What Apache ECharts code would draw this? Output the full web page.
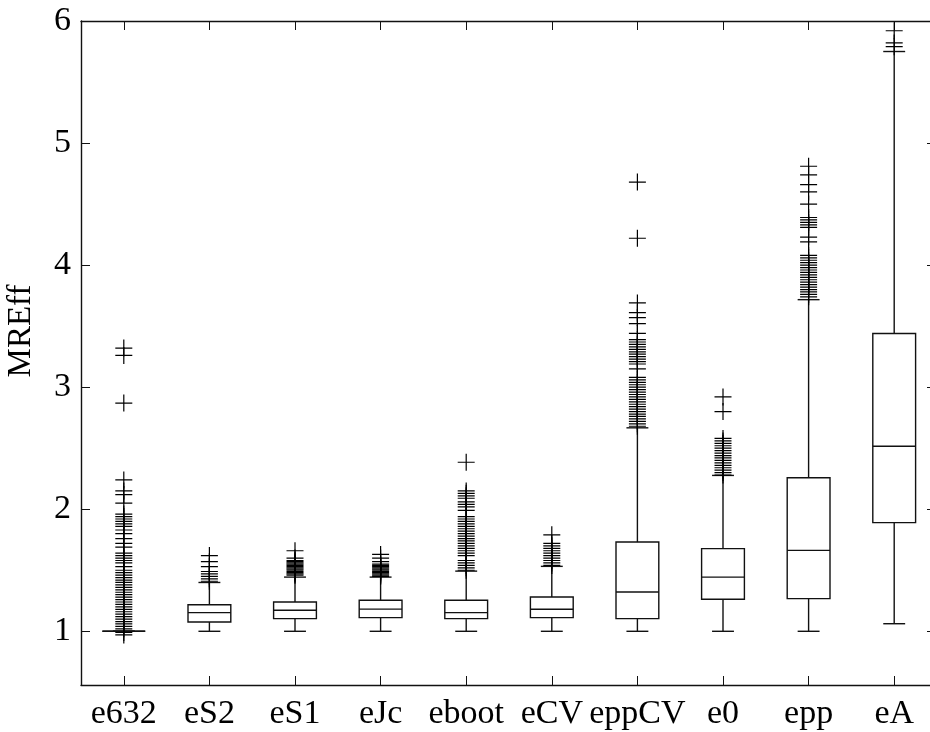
<!DOCTYPE html>
<html>
<head>
<meta charset="utf-8">
<script src="https://cdn.jsdelivr.net/npm/echarts@6/dist/echarts.min.js"></script>
<style>
  html, body { margin: 0; padding: 0; background: #fff; }
  #chart { width: 930px; height: 732px; }
</style>
</head>
<body>
<div id="chart"></div>
<script>
// categories on the x axis
const categories = ['e632', 'eS2', 'eS1', 'eJc', 'eboot', 'eCV', 'eppCV', 'e0', 'epp', 'eA'];

// box summaries
const lowWhisker  = [1.0, 1.0,   1.0,   1.0,   1.0,   1.0,   1.0,   1.0,   1.0,   1.062];
const lowQuartile = [1.0, 1.076, 1.104, 1.112, 1.104, 1.112, 1.104, 1.262, 1.268, 1.89];
const medians     = [1.0, 1.153, 1.172, 1.182, 1.153, 1.18,  1.322, 1.444, 1.663, 2.516];
const upQuartile  = [1.0, 1.218, 1.24,  1.254, 1.254, 1.281, 1.731, 1.677, 2.258, 3.44];
const upWhisker   = [1.0, 1.40,  1.444, 1.444, 1.493, 1.532, 2.667, 2.277, 3.717, 5.75];

// outliers per category ('+' markers)
const outE632 = [3.32, 3.26, 2.87, 2.24, 2.15, 2.12, 2.05, 1.96, 1.94, 1.92, 1.90, 1.88, 1.86, 1.83, 1.80,
  1.76, 1.72, 1.69, 1.64, 1.62, 1.60, 1.58, 1.56, 1.53, 1.50, 1.48, 1.46, 1.44, 1.42, 1.40, 1.38, 1.36,
  1.34, 1.32, 1.30, 1.28, 1.26, 1.24, 1.22, 1.20, 1.18, 1.16, 1.14, 1.12, 1.10, 1.08, 1.06, 1.04, 1.02,
  0.99, 0.97];
const outES2 = [1.62, 1.57, 1.53, 1.49, 1.47, 1.45, 1.43, 1.41];
const outES1 = [1.66, 1.60, 1.58, 1.57, 1.56, 1.55, 1.54, 1.53, 1.52, 1.51, 1.50, 1.49, 1.48, 1.47, 1.46];
const outEJc = [1.63, 1.60, 1.57, 1.55, 1.54, 1.53, 1.52, 1.51, 1.50, 1.49, 1.48, 1.47, 1.46, 1.45];
const outEboot = [2.385, 2.15, 2.13, 2.11, 2.09, 2.06, 2.04, 2.02, 1.99, 1.94, 1.92, 1.90, 1.88, 1.86, 1.84,
  1.82, 1.80, 1.78, 1.76, 1.74, 1.72, 1.70, 1.68, 1.66, 1.64, 1.62, 1.58, 1.56, 1.54, 1.52, 1.50];
const outECV = [1.79, 1.72, 1.70, 1.68, 1.66, 1.64, 1.62, 1.60, 1.58, 1.56, 1.54];
const outEppCV = [4.68, 4.22, 3.69, 3.61, 3.57, 3.52, 3.44, 3.39, 3.37, 3.35, 3.33, 3.31, 3.29, 3.27, 3.25,
  3.23, 3.21, 3.19, 3.15, 3.08, 3.06, 3.04, 3.02, 3.00, 2.98, 2.96, 2.94, 2.92, 2.90, 2.88, 2.86, 2.84,
  2.82, 2.80, 2.78, 2.76, 2.74, 2.72, 2.70, 2.68];
const outE0 = [2.92, 2.80, 2.58, 2.56, 2.54, 2.52, 2.50, 2.48, 2.46, 2.44, 2.42, 2.40, 2.38, 2.36, 2.34,
  2.32, 2.30, 2.28];
const outEpp = [4.81, 4.74, 4.66, 4.60, 4.50, 4.39, 4.37, 4.35, 4.33, 4.31, 4.23, 4.19, 4.08, 4.06, 4.04,
  4.02, 4.00, 3.98, 3.96, 3.94, 3.92, 3.90, 3.88, 3.86, 3.84, 3.82, 3.80, 3.78, 3.76, 3.74];
const outEA = [5.92, 5.82, 5.79];

// y tick labels
const yTicks = [1, 2, 3, 4, 5, 6];

const outlierLists = [outE632, outES2, outES1, outEJc, outEboot, outECV, outEppCV, outE0, outEpp, outEA];

// build data for the series
const boxData = categories.map((c, i) =>
  [i, lowWhisker[i], lowQuartile[i], medians[i], upQuartile[i], upWhisker[i]]);
const outlierData = [];
outlierLists.forEach((list, i) => {
  list.forEach(v => outlierData.push([i, v]));
});

const serif = 'Liberation Serif, Times New Roman, serif';
const lineColor = '#111';

// draw one box: box, median, whiskers and short caps
function renderBox(params, api) {
  const i = api.value(0);
  const lo = api.coord([i, api.value(1)]);
  const b1 = api.coord([i, api.value(2)]);
  const md = api.coord([i, api.value(3)]);
  const b3 = api.coord([i, api.value(4)]);
  const hi = api.coord([i, api.value(5)]);
  const band = api.size([1, 0])[0];
  const hw = band * 0.25;   // half box width
  const cw = band * 0.128;  // half cap width
  const x = lo[0];
  const st = { stroke: lineColor, lineWidth: 1.4, fill: 'none' };
  return {
    type: 'group',
    children: [
      { type: 'line', shape: { x1: x, y1: b3[1], x2: x, y2: hi[1] }, style: st },
      { type: 'line', shape: { x1: x, y1: b1[1], x2: x, y2: lo[1] }, style: st },
      { type: 'line', shape: { x1: x - cw, y1: hi[1], x2: x + cw, y2: hi[1] }, style: st },
      { type: 'line', shape: { x1: x - cw, y1: lo[1], x2: x + cw, y2: lo[1] }, style: st },
      { type: 'rect', shape: { x: x - hw, y: b3[1], width: hw * 2, height: b1[1] - b3[1] }, style: st },
      { type: 'line', shape: { x1: x - hw, y1: md[1], x2: x + hw, y2: md[1] }, style: st }
    ]
  };
}

const chart = echarts.init(document.getElementById('chart'));
chart.setOption({
  animation: false,
  backgroundColor: '#fff',
  grid: { left: 81, right: -7, top: 21, bottom: 47, containLabel: false, outerBoundsMode: 'none' },
  xAxis: [
    {
      type: 'category',
      data: categories,
      position: 'bottom',
      boundaryGap: true,
      axisLine: { show: true, lineStyle: { color: lineColor, width: 1.4 } },
      axisTick: { show: true, inside: true, alignWithLabel: true, interval: 0, length: 9, lineStyle: { color: lineColor } },
      axisLabel: { color: '#000', fontSize: 34, fontFamily: serif, margin: 12, interval: 0, hideOverlap: false },
      splitLine: { show: false }
    },
    {
      type: 'category',
      data: categories,
      position: 'top',
      boundaryGap: true,
      axisLine: { show: true, lineStyle: { color: lineColor, width: 1.4 } },
      axisTick: { show: true, inside: true, alignWithLabel: true, interval: 0, length: 9, lineStyle: { color: lineColor } },
      axisLabel: { show: false },
      splitLine: { show: false }
    }
  ],
  yAxis: [
    {
      type: 'value',
      min: 0.56,
      max: 6,
      position: 'left',
      name: 'MREff',
      nameLocation: 'middle',
      nameRotate: 90,
      nameGap: 43,
      nameTextStyle: { color: '#000', fontSize: 33, fontFamily: serif, padding: [0, 0, 0, 44] },
      axisLine: { show: true, lineStyle: { color: lineColor, width: 1.4 } },
      axisTick: { show: true, inside: true, length: 9, customValues: yTicks, lineStyle: { color: lineColor } },
      axisLabel: { color: '#000', fontSize: 34, fontFamily: serif, margin: 10, customValues: yTicks },
      splitLine: { show: false }
    },
    {
      type: 'value',
      min: 0.56,
      max: 6,
      position: 'right',
      axisLine: { show: true, lineStyle: { color: lineColor, width: 1.4 } },
      axisTick: { show: true, inside: true, length: 10, customValues: yTicks, lineStyle: { color: lineColor } },
      axisLabel: { show: false },
      splitLine: { show: false }
    }
  ],
  series: [
    {
      type: 'custom',
      renderItem: renderBox,
      data: boxData,
      encode: { x: 0, y: [1, 2, 3, 4, 5] },
      silent: true
    },
    {
      type: 'scatter',
      data: outlierData,
      symbol: 'path://M0,50L100,50M50,0L50,100',
      symbolSize: 17,
      itemStyle: { color: 'none', borderColor: '#000', borderWidth: 1.2, opacity: 1 },
      silent: true
    }
  ]
});
</script>
</body>
</html>
